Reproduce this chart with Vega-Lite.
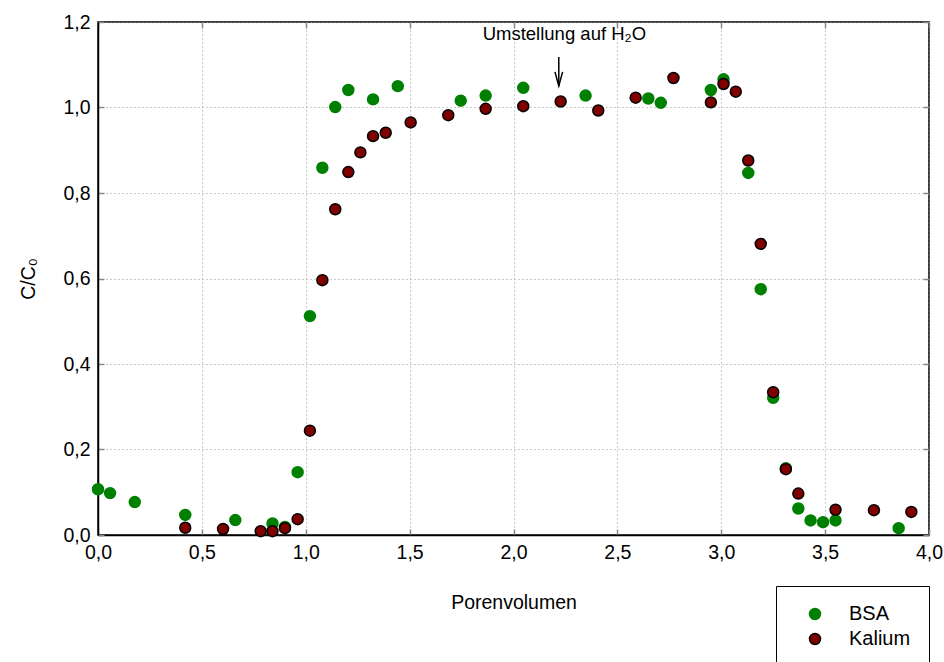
{
  "$schema": "https://vega.github.io/schema/vega-lite/v6.json",
  "autosize": "none",
  "padding": {"left": 98, "top": 22, "right": 15, "bottom": 127},
  "width": 831,
  "height": 513,
  "background": "white",
  "config": {
    "font": "Liberation Sans",
    "locale": {"number": {"decimal": ",", "thousands": ".", "grouping": [3], "currency": ["", " €"]}},
    "view": {"stroke": "black", "strokeWidth": 1.5},
    "axis": {
      "labelFont": "Liberation Sans",
      "titleFont": "Liberation Sans",
      "labelFontSize": 19.5,
      "titleFontSize": 19.5,
      "labelColor": "black",
      "titleColor": "black",
      "titleFontWeight": "normal",
      "domainColor": "black",
      "domainWidth": 1.5,
      "tickColor": "#888888",
      "tickWidth": 1.5,
      "tickSize": -6,
      "labelFlush": false,
      "labelOverlap": false,
      "gridColor": "#999999",
      "gridDash": [1, 3],
      "gridWidth": 1
    }
  },
  "datasets": {
    "pts": [
      {"pv": 0.0, "c": 0.107, "serie": "BSA"},
      {"pv": 0.058, "c": 0.098, "serie": "BSA"},
      {"pv": 0.177, "c": 0.077, "serie": "BSA"},
      {"pv": 0.42, "c": 0.047, "serie": "BSA"},
      {"pv": 0.661, "c": 0.035, "serie": "BSA"},
      {"pv": 0.84, "c": 0.027, "serie": "BSA"},
      {"pv": 0.90, "c": 0.019, "serie": "BSA"},
      {"pv": 0.961, "c": 0.147, "serie": "BSA"},
      {"pv": 1.02, "c": 0.512, "serie": "BSA"},
      {"pv": 1.08, "c": 0.859, "serie": "BSA"},
      {"pv": 1.142, "c": 1.001, "serie": "BSA"},
      {"pv": 1.205, "c": 1.041, "serie": "BSA"},
      {"pv": 1.324, "c": 1.019, "serie": "BSA"},
      {"pv": 1.443, "c": 1.05, "serie": "BSA"},
      {"pv": 1.746, "c": 1.016, "serie": "BSA"},
      {"pv": 1.866, "c": 1.028, "serie": "BSA"},
      {"pv": 2.047, "c": 1.046, "serie": "BSA"},
      {"pv": 2.347, "c": 1.028, "serie": "BSA"},
      {"pv": 2.649, "c": 1.021, "serie": "BSA"},
      {"pv": 2.709, "c": 1.011, "serie": "BSA"},
      {"pv": 2.95, "c": 1.041, "serie": "BSA"},
      {"pv": 3.011, "c": 1.066, "serie": "BSA"},
      {"pv": 3.13, "c": 0.847, "serie": "BSA"},
      {"pv": 3.19, "c": 0.575, "serie": "BSA"},
      {"pv": 3.25, "c": 0.321, "serie": "BSA"},
      {"pv": 3.311, "c": 0.156, "serie": "BSA"},
      {"pv": 3.371, "c": 0.062, "serie": "BSA"},
      {"pv": 3.43, "c": 0.034, "serie": "BSA"},
      {"pv": 3.49, "c": 0.03, "serie": "BSA"},
      {"pv": 3.55, "c": 0.034, "serie": "BSA"},
      {"pv": 3.854, "c": 0.016, "serie": "BSA"},
      {"pv": 0.42, "c": 0.017, "serie": "Kalium"},
      {"pv": 0.602, "c": 0.014, "serie": "Kalium"},
      {"pv": 0.783, "c": 0.009, "serie": "Kalium"},
      {"pv": 0.84, "c": 0.009, "serie": "Kalium"},
      {"pv": 0.90, "c": 0.016, "serie": "Kalium"},
      {"pv": 0.961, "c": 0.037, "serie": "Kalium"},
      {"pv": 1.02, "c": 0.244, "serie": "Kalium"},
      {"pv": 1.08, "c": 0.596, "serie": "Kalium"},
      {"pv": 1.142, "c": 0.762, "serie": "Kalium"},
      {"pv": 1.205, "c": 0.849, "serie": "Kalium"},
      {"pv": 1.263, "c": 0.895, "serie": "Kalium"},
      {"pv": 1.324, "c": 0.933, "serie": "Kalium"},
      {"pv": 1.385, "c": 0.941, "serie": "Kalium"},
      {"pv": 1.505, "c": 0.965, "serie": "Kalium"},
      {"pv": 1.686, "c": 0.982, "serie": "Kalium"},
      {"pv": 1.866, "c": 0.997, "serie": "Kalium"},
      {"pv": 2.047, "c": 1.003, "serie": "Kalium"},
      {"pv": 2.227, "c": 1.014, "serie": "Kalium"},
      {"pv": 2.408, "c": 0.993, "serie": "Kalium"},
      {"pv": 2.588, "c": 1.023, "serie": "Kalium"},
      {"pv": 2.77, "c": 1.069, "serie": "Kalium"},
      {"pv": 2.95, "c": 1.012, "serie": "Kalium"},
      {"pv": 3.011, "c": 1.055, "serie": "Kalium"},
      {"pv": 3.07, "c": 1.037, "serie": "Kalium"},
      {"pv": 3.13, "c": 0.876, "serie": "Kalium"},
      {"pv": 3.19, "c": 0.681, "serie": "Kalium"},
      {"pv": 3.25, "c": 0.334, "serie": "Kalium"},
      {"pv": 3.311, "c": 0.154, "serie": "Kalium"},
      {"pv": 3.371, "c": 0.097, "serie": "Kalium"},
      {"pv": 3.55, "c": 0.059, "serie": "Kalium"},
      {"pv": 3.735, "c": 0.058, "serie": "Kalium"},
      {"pv": 3.915, "c": 0.054, "serie": "Kalium"}
    ],
    "note": [
      {"pv": 2.245, "c": 1.157, "y0": 1.118, "y1": 1.05, "yh": 1.067, "label": "Umstellung auf H₂O", "px": 2.218}
    ]
  },
  "layer": [
    {
      "data": {"name": "pts"},
      "mark": {"type": "point", "filled": true, "opacity": 1, "strokeWidth": 1.5, "size": 120},
      "encoding": {
        "x": {
          "field": "pv", "type": "quantitative",
          "scale": {"domain": [0, 4], "nice": false, "zero": false},
          "axis": {"title": "Porenvolumen", "format": ".1f", "values": [0, 0.5, 1, 1.5, 2, 2.5, 3, 3.5, 4], "labelPadding": 14, "titlePadding": 32, "grid": true}
        },
        "y": {
          "field": "c", "type": "quantitative",
          "scale": {"domain": [0, 1.2], "nice": false},
          "axis": {"title": "C/C₀", "format": ".1f", "values": [0, 0.2, 0.4, 0.6, 0.8, 1.0, 1.2], "labelPadding": 14, "titlePadding": 24, "grid": true}
        },
        "fill": {
          "field": "serie", "type": "nominal",
          "scale": {"domain": ["BSA", "Kalium"], "range": ["#008000", "#800000"]},
          "legend": {
            "title": null, "orient": "none", "legendX": 678, "legendY": 564,
            "strokeColor": "black", "fillColor": "white", "padding": 18,
            "symbolOffset": 11, "labelOffset": 24, "labelFontSize": 20, "labelFont": "Liberation Sans",
            "symbolSize": 120, "symbolStrokeWidth": 1.5, "rowPadding": 5, "labelColor": "black"
          }
        },
        "stroke": {
          "field": "serie", "type": "nominal",
          "scale": {"domain": ["BSA", "Kalium"], "range": ["#008000", "black"]},
          "legend": {
            "title": null, "orient": "none", "legendX": 678, "legendY": 564,
            "strokeColor": "black", "fillColor": "white", "padding": 18,
            "symbolOffset": 11, "labelOffset": 24, "labelFontSize": 20, "labelFont": "Liberation Sans",
            "symbolSize": 120, "symbolStrokeWidth": 1.5, "rowPadding": 5, "labelColor": "black"
          }
        },
        "shape": {"value": "circle"}
      }
    },
    {
      "data": {"name": "pts"},
      "mark": {"type": "point", "opacity": 0},
      "encoding": {
        "x": {"field": "pv", "type": "quantitative", "scale": {"domain": [0, 4], "nice": false, "zero": false},
          "axis": {"orient": "top", "labels": false, "domain": false, "title": null, "grid": false, "values": [0, 0.5, 1, 1.5, 2, 2.5, 3, 3.5, 4]}},
        "y": {"field": "c", "type": "quantitative", "scale": {"domain": [0, 1.2], "nice": false},
          "axis": {"orient": "right", "labels": false, "domain": false, "title": null, "grid": false, "values": [0, 0.2, 0.4, 0.6, 0.8, 1.0, 1.2]}}
      }
    },
    {
      "data": {"name": "note"},
      "mark": {"type": "text", "align": "center", "baseline": "alphabetic", "fontSize": 18.5, "font": "Liberation Sans", "color": "black"},
      "encoding": {
        "x": {"field": "pv", "type": "quantitative", "axis": null},
        "y": {"field": "c", "type": "quantitative", "axis": null},
        "text": {"field": "label"}
      }
    },
    {
      "data": {"name": "note"},
      "mark": {"type": "rule", "color": "black", "strokeWidth": 1.5},
      "encoding": {
        "x": {"field": "px", "type": "quantitative", "axis": null},
        "y": {"field": "y0", "type": "quantitative", "axis": null},
        "y2": {"field": "y1"}
      }
    },
    {
      "data": {"name": "note"},
      "mark": {"type": "point", "filled": false, "stroke": "black", "strokeWidth": 1.5, "opacity": 1, "size": 196, "shape": "M-0.55,-1L0,1L0.55,-1"},
      "encoding": {
        "x": {"field": "px", "type": "quantitative", "axis": null},
        "y": {"field": "yh", "type": "quantitative", "axis": null}
      }
    }
  ],
  "resolve": {"axis": {"x": "independent", "y": "independent"}}
}
